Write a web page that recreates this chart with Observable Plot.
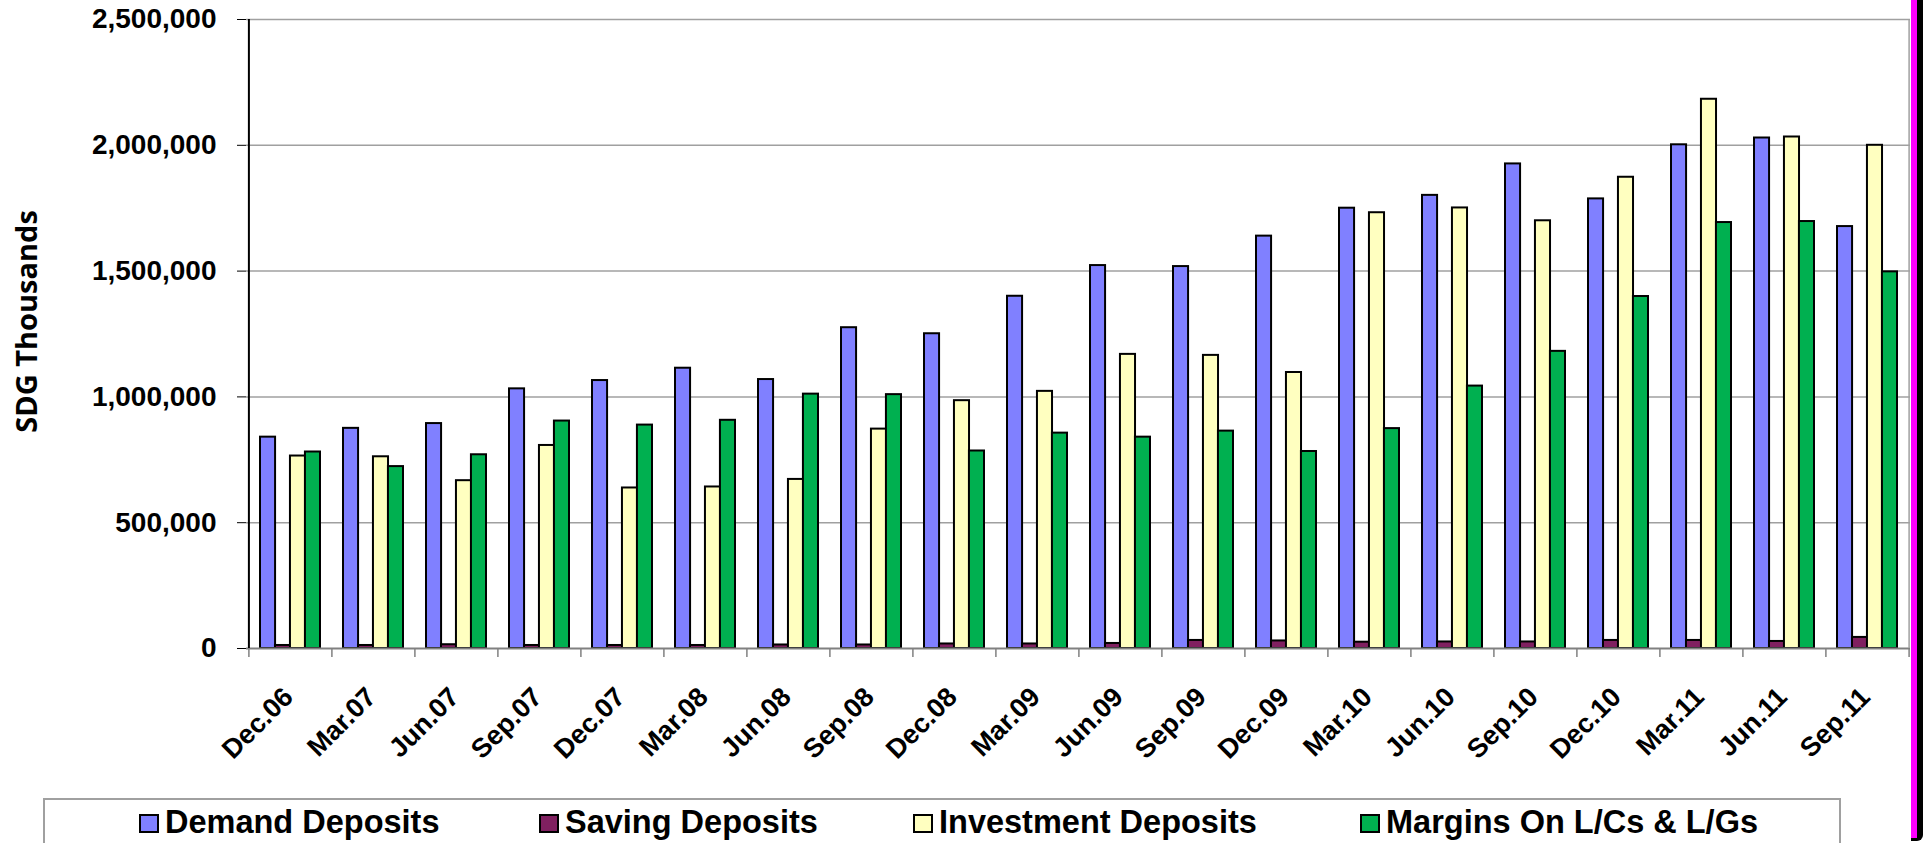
<!DOCTYPE html>
<html>
<head>
<meta charset="utf-8">
<script src="https://cdn.jsdelivr.net/npm/d3@7"></script>
<script src="https://cdn.jsdelivr.net/npm/@observablehq/plot@0.6"></script>
<style>
  html, body { margin: 0; padding: 0; background: #fff; }
  #wrap { position: relative; width: 1923px; height: 843px; overflow: hidden; background: #fff; }
  #legend { position: absolute; left: 43px; top: 798px; width: 1798px; height: 60px; border: 2px solid #a0a0a0; box-sizing: border-box; }
  .item { position: absolute; top: 0; height: 60px; }
  .mk { position: absolute; top: 14px; width: 16px; height: 15px; border: 2px solid #000; }
  .lb { position: absolute; top: 6px; left: 26px; white-space: nowrap; font-family: "Liberation Sans", Arial, sans-serif; font-weight: bold; font-size: 32.5px; line-height: 32px; color: #000; }
  #edge { position: absolute; left: 1911px; top: 0; width: 6px; height: 838px; background: #ff00ff; border-right: 6px solid #000; border-bottom: 3px solid #000; border-bottom-right-radius: 6px; }
</style>
</head>
<body>
<div id="wrap">
  <div id="chart"></div>
  <div id="legend"></div>
  <div id="edge"></div>
</div>
<script>
const periods = ["Dec.06","Mar.07","Jun.07","Sep.07","Dec.07","Mar.08","Jun.08","Sep.08","Dec.08","Mar.09","Jun.09","Sep.09","Dec.09","Mar.10","Jun.10","Sep.10","Dec.10","Mar.11","Jun.11","Sep.11"];
const seriesNames = ["Demand Deposits","Saving Deposits","Investment Deposits","Margins On L/Cs & L/Gs"];
const seriesColors = ["#8080ff","#802060","#ffffc0","#00b050"];
const demand = [840000, 875000, 894000, 1032000, 1065000, 1114000, 1069000, 1275000, 1251000, 1400000, 1522000, 1518000, 1639000, 1750000, 1801000, 1926000, 1787000, 2002000, 2029000, 1677000];
const saving = [12000, 12000, 15000, 12000, 12000, 12000, 14000, 14000, 18000, 18000, 20000, 32000, 30000, 25000, 26000, 26000, 32000, 32000, 28000, 44000];
const investment = [765000, 762000, 667000, 807000, 638000, 642000, 672000, 872000, 985000, 1022000, 1169000, 1165000, 1097000, 1732000, 1751000, 1700000, 1873000, 2183000, 2033000, 2000000];
const margins = [781000, 723000, 770000, 904000, 888000, 907000, 1011000, 1009000, 785000, 856000, 840000, 864000, 783000, 874000, 1043000, 1181000, 1399000, 1693000, 1697000, 1497000];
const yTicks = [0, 500000, 1000000, 1500000, 2000000, 2500000];
const yTitle = "SDG Thousands";

const seriesValues = [demand, saving, investment, margins];
const rows = [];
seriesValues.forEach((vals, s) => vals.forEach((v, i) => rows.push({period: periods[i], series: seriesNames[s], value: v})));

const W = 1923, H = 795;
const mL = 246, mR = 13, mT = 19, mB = 147;
const step = (W - mL - mR) / periods.length;
const band = step * 0.72;
const q = band / 4;

const barMarks = seriesNames.map((name, s) =>
  Plot.barY(rows.filter(r => r.series === name), {
    x: "period", y: "value",
    fill: seriesColors[s], stroke: "#000", strokeWidth: 2,
    insetLeft: s * q, insetRight: (3 - s) * q
  })
);

const chart = Plot.plot({
  width: W, height: H,
  marginLeft: mL, marginRight: mR, marginTop: mT, marginBottom: mB,
  style: {fontFamily: "'Liberation Sans', Arial, sans-serif", fontSize: "28px", fontWeight: "bold", background: "#fff", color: "#000", overflow: "visible"},
  x: {domain: periods, paddingInner: 0.28, paddingOuter: 0.14, axis: null},
  y: {domain: [0, 2500000], ticks: yTicks, tickFormat: d3.format(","), tickSize: 9, tickPadding: 21, label: null},
  marks: [
    Plot.ruleY(yTicks.filter(d => d > 0), {stroke: "#a0a0a0", strokeWidth: 1.5}),
    ...barMarks,
    Plot.ruleY([0], {stroke: "#808080", strokeWidth: 2}),
    Plot.ruleX(periods, {x: d => d, y1: 0, y2: 0, insetBottom: -9, dx: -step / 2, stroke: "#808080", strokeWidth: 1.5}),
    Plot.ruleX([periods[periods.length - 1]], {x: d => d, y1: 0, y2: 0, insetBottom: -9, dx: step / 2, stroke: "#808080", strokeWidth: 1.5}),
    Plot.ruleX([periods[periods.length - 1]], {x: d => d, dx: step / 2, stroke: "#a0a0a0", strokeWidth: 1.5}),
    Plot.ruleX([periods[0]], {x: d => d, dx: -step / 2, stroke: "#000", strokeWidth: 2}),
    Plot.text(periods, {x: d => d, frameAnchor: "bottom", rotate: -45, textAnchor: "end", lineAnchor: "middle", dy: 44, dx: -2, fontSize: 27, fontWeight: "bold", fill: "#000"}),
    Plot.text([yTitle], {frameAnchor: "left", textAnchor: "middle", rotate: -90, dx: -219, dy: -12.5, fontFamily: "'Open Sans', sans-serif", fontSize: 29, fontWeight: "bold", fill: "#000"})
  ]
});
document.getElementById("chart").appendChild(chart);

const legendLefts = [94, 494, 868, 1315];
const legend = document.getElementById("legend");
seriesNames.forEach((name, s) => {
  const it = document.createElement("div");
  it.className = "item";
  it.style.left = legendLefts[s] + "px";
  const mk = document.createElement("div");
  mk.className = "mk";
  mk.style.background = seriesColors[s];
  const lb = document.createElement("div");
  lb.className = "lb";
  lb.textContent = name;
  it.appendChild(mk); it.appendChild(lb);
  legend.appendChild(it);
});
</script>
</body>
</html>
